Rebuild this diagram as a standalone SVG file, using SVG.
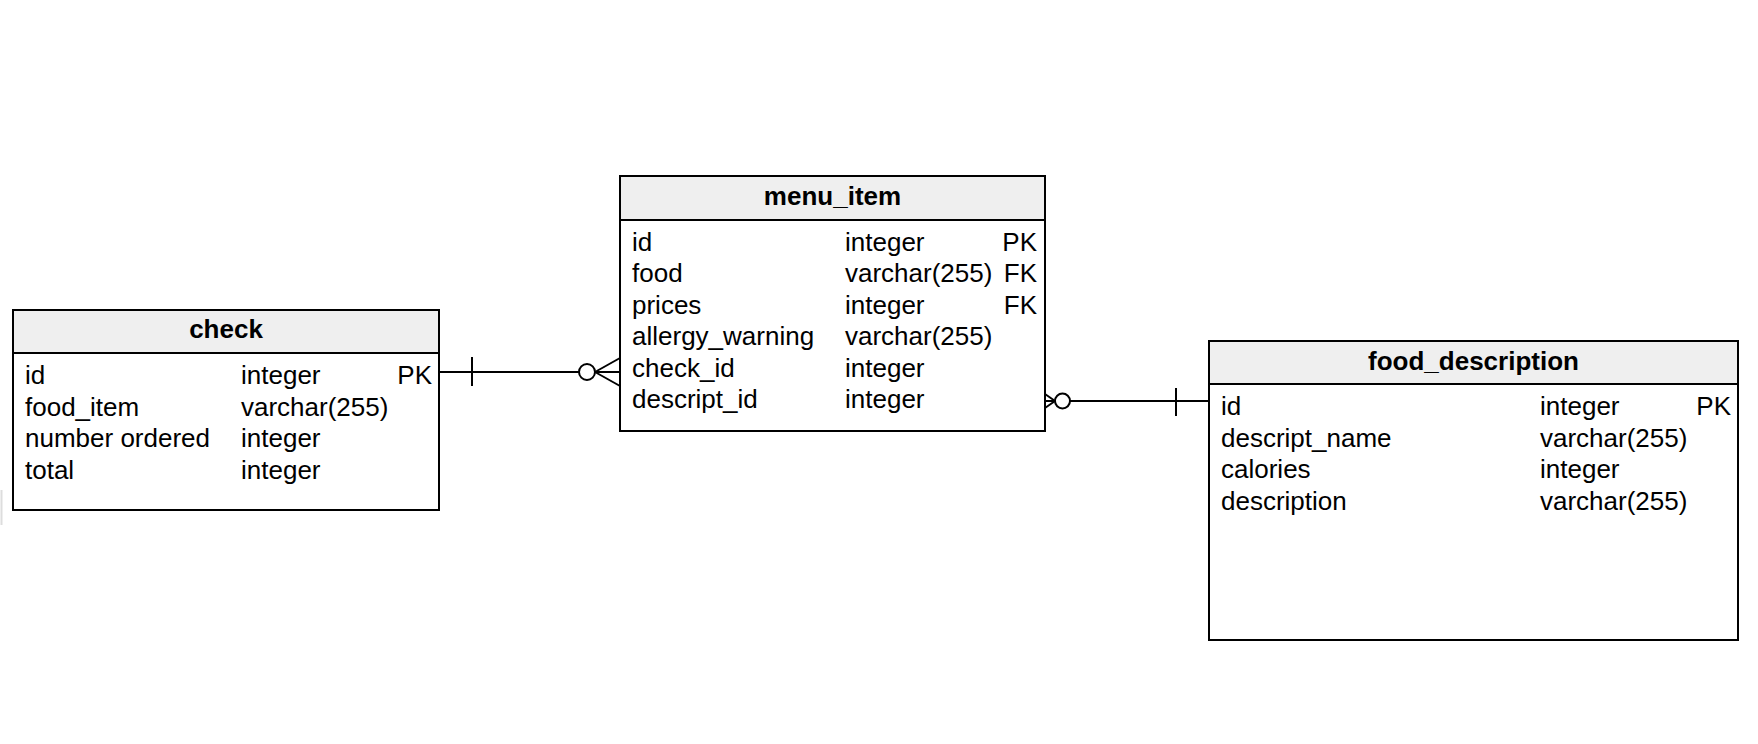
<svg xmlns="http://www.w3.org/2000/svg" width="1758" height="744" viewBox="0 0 1758 744">
<style>
.box{fill:#fff;stroke:#000;stroke-width:2}
.hdr{fill:#efefef;stroke:#000;stroke-width:2}
.t{font-family:"Liberation Sans",Arial,sans-serif;font-size:26px;fill:#000}
.h{font-family:"Liberation Sans",Arial,sans-serif;font-size:26px;font-weight:bold;fill:#000;text-anchor:middle}
.r{text-anchor:end}
.ln{stroke:#000;stroke-width:2;fill:none}
.c{stroke:#000;stroke-width:2;fill:#fff}
</style>
<rect width="1758" height="744" fill="#fff"/>
<line x1="1.5" y1="490" x2="1.5" y2="525" stroke="#dddddd" stroke-width="2"/>
<g id="connectors">
  <line class="ln" x1="440" y1="372" x2="620" y2="372"/>
  <line class="ln" x1="472" y1="357" x2="472" y2="386"/>
  <line class="ln" x1="595" y1="372" x2="620" y2="358"/>
  <line class="ln" x1="595" y1="372" x2="620" y2="386"/>
  <circle class="c" cx="587" cy="372" r="8"/>
  <line class="ln" x1="1045" y1="401" x2="1209" y2="401"/>
  <line class="ln" x1="1176" y1="388" x2="1176" y2="416"/>
  <line class="ln" x1="1055" y1="401" x2="1045" y2="394"/>
  <line class="ln" x1="1055" y1="401" x2="1045" y2="408"/>
  <circle class="c" cx="1062.5" cy="401" r="7.5"/>
</g>
<g id="check">
  <rect class="box" x="13" y="310" width="426" height="200"/>
  <rect class="hdr" x="13" y="310" width="426" height="43"/>
  <text class="h" x="226" y="338">check</text>
  <text class="t" x="25" y="384.3">id</text>
  <text class="t" x="241" y="384.3">integer</text>
  <text class="t r" x="432" y="384.3">PK</text>
  <text class="t" x="25" y="415.8">food_item</text>
  <text class="t" x="241" y="415.8">varchar(255)</text>
  <text class="t" x="25" y="447.3">number ordered</text>
  <text class="t" x="241" y="447.3">integer</text>
  <text class="t" x="25" y="478.8">total</text>
  <text class="t" x="241" y="478.8">integer</text>
</g>
<g id="menu_item">
  <rect class="box" x="620" y="176" width="425" height="255"/>
  <rect class="hdr" x="620" y="176" width="425" height="44"/>
  <text class="h" x="832.5" y="205">menu_item</text>
  <text class="t" x="632" y="250.7">id</text>
  <text class="t" x="845" y="250.7">integer</text>
  <text class="t r" x="1037" y="250.7">PK</text>
  <text class="t" x="632" y="282.2">food</text>
  <text class="t" x="845" y="282.2">varchar(255)</text>
  <text class="t r" x="1037" y="282.2">FK</text>
  <text class="t" x="632" y="313.7">prices</text>
  <text class="t" x="845" y="313.7">integer</text>
  <text class="t r" x="1037" y="313.7">FK</text>
  <text class="t" x="632" y="345.2">allergy_warning</text>
  <text class="t" x="845" y="345.2">varchar(255)</text>
  <text class="t" x="632" y="376.7">check_id</text>
  <text class="t" x="845" y="376.7">integer</text>
  <text class="t" x="632" y="408.2">descript_id</text>
  <text class="t" x="845" y="408.2">integer</text>
</g>
<g id="food_description">
  <rect class="box" x="1209" y="341" width="529" height="299"/>
  <rect class="hdr" x="1209" y="341" width="529" height="43"/>
  <text class="h" x="1473.5" y="370">food_description</text>
  <text class="t" x="1221" y="415">id</text>
  <text class="t" x="1540" y="415">integer</text>
  <text class="t r" x="1731" y="415">PK</text>
  <text class="t" x="1221" y="446.5">descript_name</text>
  <text class="t" x="1540" y="446.5">varchar(255)</text>
  <text class="t" x="1221" y="478">calories</text>
  <text class="t" x="1540" y="478">integer</text>
  <text class="t" x="1221" y="509.5">description</text>
  <text class="t" x="1540" y="509.5">varchar(255)</text>
</g>
</svg>
